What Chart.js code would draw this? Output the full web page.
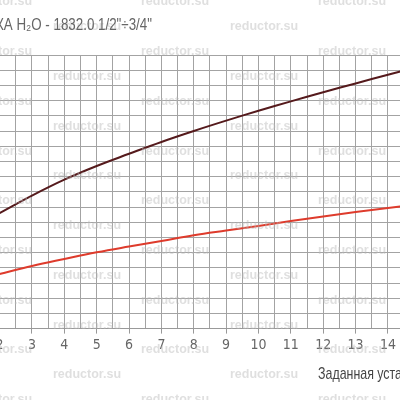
<!DOCTYPE html>
<html>
<head>
<meta charset="utf-8">
<script src="https://cdn.jsdelivr.net/npm/chart.js@4"></script>
<style>
html,body{margin:0;padding:0;background:#fff;overflow:hidden;width:400px;height:400px;}
#wrap{position:absolute;left:-40px;top:0;width:480px;height:400px;}
</style>
</head>
<body>
<div id="wrap"><canvas id="c" width="480" height="400"></canvas></div>
<script>
// Data
const xValues = [2, 3, 4, 5, 6, 7, 8, 9, 10, 11, 12, 13, 14, 15];
const upperCurve = [7.6, 8.75, 9.8, 10.7, 11.5, 12.28, 13.0, 13.68, 14.33, 14.95, 15.55, 16.13, 16.7, 17.25];
const lowerCurve = [3.59, 4.12, 4.58, 5.02, 5.40, 5.76, 6.14, 6.45, 6.75, 7.08, 7.38, 7.67, 7.93, 8.2];
const titleText = 'ХАРАКТЕРИСТИКА H\u2082O - 1832.0 1/2"\u00F73/4"';
const titleVisible = 'КА H\u2082O - 1832.0 1/2"\u00F73/4"';
const xAxisTitle = 'Заданная установка';
const xAxisVisible = 'Заданная уста';
const watermark = 'reductor.su';

const OFF = 40; // wrapper offset

function condensedText(ctx, full, visible, targetWidth, x, y, align) {
  const w = ctx.measureText(visible).width;
  const sx = targetWidth / w;
  ctx.save();
  ctx.translate(x, y);
  ctx.scale(sx, 1);
  ctx.textAlign = align;
  ctx.fillText(full, 0, 0);
  ctx.restore();
}

const textPlugin = {
  id: 'texts',
  afterDraw(chart) {
    const ctx = chart.ctx;
    ctx.save();
    // watermarks
    ctx.font = 'bold 12.5px "Liberation Sans", Arial, sans-serif';
    ctx.fillStyle = 'rgba(185,185,185,0.45)';
    ctx.textAlign = 'center';
    ctx.textBaseline = 'middle';
    for (let r = 0; r < 17; r++) {
      const y = 2 + r * 24.85;
      const base = (r % 2 === 0) ? -2 : 87;
      for (let k = -1; k < 4; k++) {
        ctx.fillText(watermark, OFF + base + k * 177, y);
      }
    }
    // title
    ctx.font = '16.5px "Liberation Sans", Arial, sans-serif';
    ctx.fillStyle = '#666';
    ctx.textBaseline = 'middle';
    condensedText(ctx, titleText, titleVisible, 156, OFF + 152, 25, 'right');
    // x axis title
    ctx.fillStyle = '#444';
    ctx.font = '17px "Liberation Sans", Arial, sans-serif';
    condensedText(ctx, xAxisTitle, xAxisVisible, 84, OFF + 318, 374, 'left');
    ctx.restore();
  }
};

new Chart(document.getElementById('c'), {
  type: 'line',
  data: {
    datasets: [
      {
        data: xValues.map((x, i) => ({x: x, y: upperCurve[i]})),
        borderColor: '#551a1c',
        borderWidth: 2,
        pointRadius: 0,
        tension: 0.4,
        fill: false
      },
      {
        data: xValues.map((x, i) => ({x: x, y: lowerCurve[i]})),
        borderColor: '#de3b2c',
        borderWidth: 2,
        pointRadius: 0,
        tension: 0.4,
        fill: false
      }
    ]
  },
  options: {
    responsive: false,
    animation: false,
    devicePixelRatio: 1,
    layout: { padding: { left: 39.6, right: 19.7, top: 55, bottom: 0 } },
    plugins: { legend: { display: false }, tooltip: { enabled: false }, title: { display: false } },
    scales: {
      x: {
        type: 'linear',
        min: 2,
        max: 15,
        afterFit(scale) { scale.height = 71.4; },
        border: { display: true, color: '#999', width: 1 },
        grid: {
          color: '#a3a3a3',
          lineWidth: 1,
          tickLength: 5,
          tickColor: ctx => (ctx.tick && Number.isInteger(ctx.tick.value)) ? '#999' : 'rgba(0,0,0,0)'
        },
        ticks: {
          stepSize: 0.5,
          autoSkip: false,
          maxRotation: 0,
          padding: 3,
          color: '#666',
          font: { family: '"DejaVu Sans Condensed", "Liberation Sans", sans-serif', size: 14 },
          callback: v => Number.isInteger(v) ? String(v) : ''
        }
      },
      y: {
        min: 0,
        max: 18,
        border: { display: false },
        grid: { color: '#a3a3a3', lineWidth: 1, drawTicks: false },
        ticks: { display: false, stepSize: 1 }
      }
    }
  },
  plugins: [textPlugin]
});
</script>
</body>
</html>
